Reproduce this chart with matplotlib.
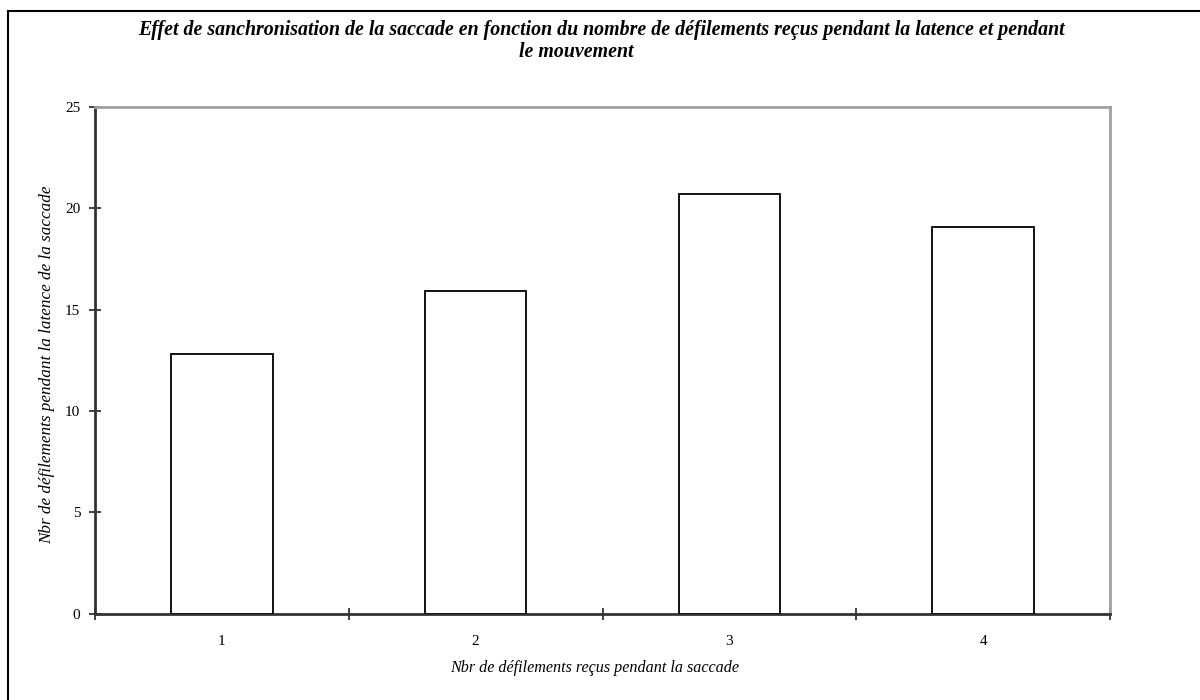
import matplotlib
matplotlib.use("Agg")
import matplotlib.pyplot as plt
from matplotlib.lines import Line2D
import numpy as np

plt.rcParams['font.family'] = ['Liberation Serif', 'DejaVu Serif']

categories = ["1", "2", "3", "4"]
values = [12.8, 15.9, 20.7, 19.05]

title_line1 = "Effet de sanchronisation de la saccade en fonction du nombre de défilements reçus pendant la latence et pendant"
title_line2 = "le mouvement"
xlabel = "Nbr de défilements reçus pendant la saccade"
ylabel = "Nbr de défilements pendant la latence de la saccade"

fig = plt.figure(figsize=(12, 7), dpi=100)
ax = fig.add_axes([95 / 1200, 1 - 613.7 / 700, (1110 - 95) / 1200, (613.7 - 106.8) / 700])

x = np.arange(1, len(categories) + 1)
ax.bar(x, values, 0.4, color="white", edgecolor="black", linewidth=1.3, zorder=3)

ax.set_xlim(0.5, len(categories) + 0.5)
ax.set_ylim(0, 25)
ax.set_yticks(np.arange(0, 26, 5))

# category boundaries get the tick marks, labels sit in the middle
ax.set_xticks(np.arange(0.5, len(categories) + 1, 1))
ax.set_xticklabels([])
ax.set_xticks(x, minor=True)
ax.set_xticklabels(categories, minor=True)
ax.tick_params(axis="x", which="minor", length=0, pad=15, labelsize=11)
ax.tick_params(axis="x", which="major", direction="inout", length=9, width=1.2, color="#222222")
ax.tick_params(axis="y", direction="inout", length=9, width=1.2, color="#222222", labelsize=11, pad=6)

for side in ["left", "bottom"]:
    ax.spines[side].set_color("#333333")
    ax.spines[side].set_linewidth(2)
for side in ["top", "right"]:
    ax.spines[side].set_color("#a0a0a0")
    ax.spines[side].set_linewidth(2)

fig.text(601 / 1200, 1 - 30 / 700, title_line1, ha="center", va="center", fontsize=14.3,
         fontweight="bold", fontstyle="italic")
fig.text(576 / 1200, 1 - 52 / 700, title_line2, ha="center", va="center", fontsize=14.3,
         fontweight="bold", fontstyle="italic")
fig.text(595 / 1200, 1 - 668 / 700, xlabel, ha="center", va="center", fontsize=11.6, fontstyle="italic")
fig.text(47 / 1200, 1 - 365 / 700, ylabel, ha="center", va="center", rotation=90,
         fontsize=12.3, fontstyle="italic")

# outer frame (only left and top visible in the original)
fig.add_artist(Line2D([7.5 / 1200, 7.5 / 1200], [0, 1 - 10.5 / 700], color="black", lw=1.5, transform=fig.transFigure))
fig.add_artist(Line2D([7.5 / 1200, 1], [1 - 10.5 / 700, 1 - 10.5 / 700], color="black", lw=1.5, transform=fig.transFigure))

fig.savefig("out.png", dpi=100)
